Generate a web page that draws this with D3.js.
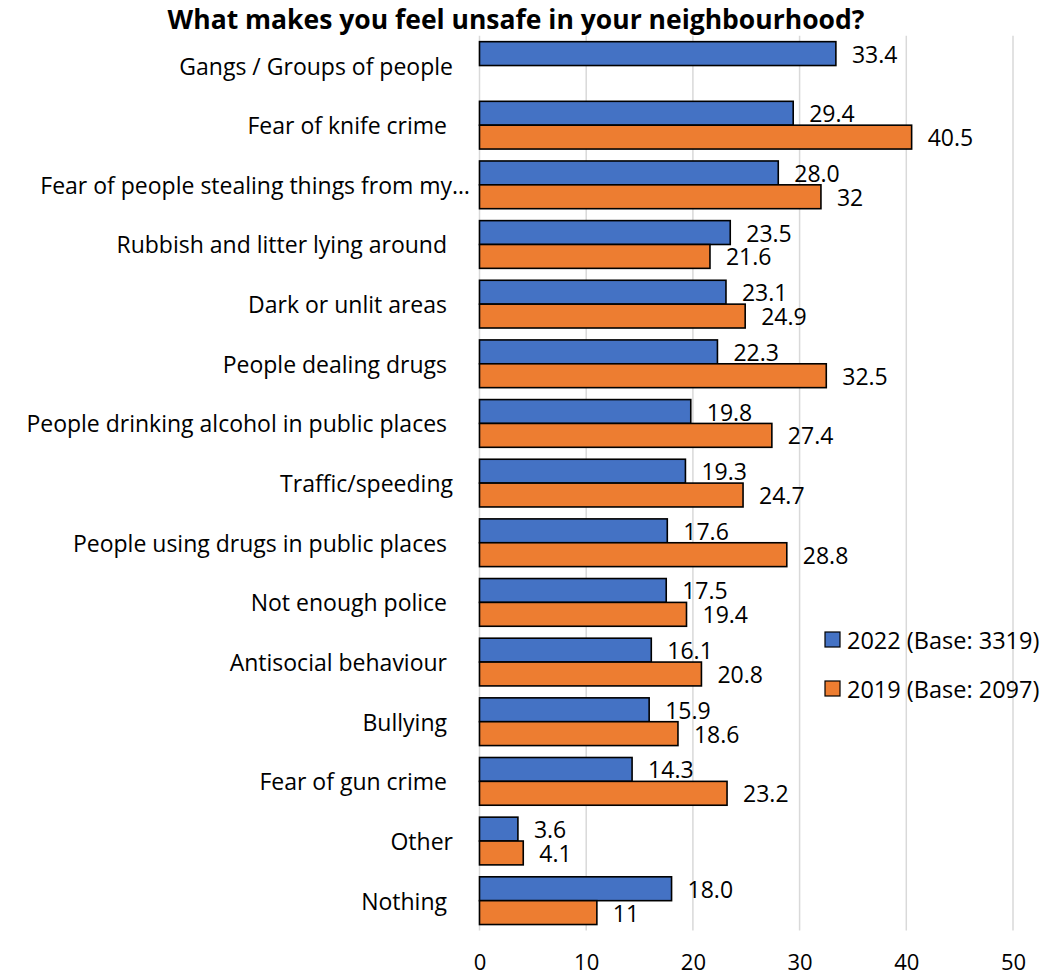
<!DOCTYPE html>
<html>
<head>
<meta charset="utf-8">
<script src="https://cdn.jsdelivr.net/npm/d3@7"></script>
<style>
  html, body { margin: 0; padding: 0; background: #fff; }
  svg { display: block; }
  text { white-space: pre; }
</style>
</head>
<body>
<svg id="chart" width="1055" height="977"></svg>
<script>
const title = "What makes you feel unsafe in your neighbourhood?";
const categories = [
  "Gangs / Groups of people",
  "Fear of knife crime ",
  "Fear of people stealing things from my…",
  "Rubbish and litter lying around ",
  "Dark or unlit areas ",
  "People dealing drugs ",
  "People drinking alcohol in public places ",
  "Traffic/speeding",
  "People using drugs in public places ",
  "Not enough police ",
  "Antisocial behaviour ",
  "Bullying ",
  "Fear of gun crime ",
  "Other",
  "Nothing "
];
const seriesNames = ["2022 (Base: 3319)", "2019 (Base: 2097)"];
const values2022 = [33.4, 29.4, 28.0, 23.5, 23.1, 22.3, 19.8, 19.3, 17.6, 17.5, 16.1, 15.9, 14.3, 3.6, 18.0];
const labels2022 = ["33.4","29.4","28.0","23.5","23.1","22.3","19.8","19.3","17.6","17.5","16.1","15.9","14.3","3.6","18.0"];
const values2019 = [null, 40.5, 32, 21.6, 24.9, 32.5, 27.4, 24.7, 28.8, 19.4, 20.8, 18.6, 23.2, 4.1, 11];
const labels2019 = ["", "40.5","32","21.6","24.9","32.5","27.4","24.7","28.8","19.4","20.8","18.6","23.2","4.1","11"];
const xTicks = [0, 10, 20, 30, 40, 50];

const colors = ["#4472C4", "#ED7D31"];
const FONT = "'Open Sans', sans-serif";

const svg = d3.select("#chart");

const x = d3.scaleLinear().domain([0, 50]).range([479.5, 1013]);
const y = d3.scaleBand().domain(categories).range([35.7, 930.5]).paddingInner(0.2).paddingOuter(0.1);
const ySub = d3.scaleBand().domain(seriesNames).range([0, y.bandwidth()]);

// gridlines
svg.append("g").selectAll("line").data(xTicks).join("line")
  .attr("x1", d => x(d)).attr("x2", d => x(d))
  .attr("y1", 35.7).attr("y2", 930.5)
  .attr("stroke", "#D9D9D9").attr("stroke-width", 1.5);

// title
svg.append("text").attr("x", 516).attr("y", 19)
  .attr("text-anchor", "middle").attr("dominant-baseline", "central")
  .attr("font-family", FONT).attr("font-weight", "bold").attr("font-size", 26.5)
  .attr("fill", "#000").text(title);

// data rows
const rows = categories.map((c, i) => ({
  cat: c,
  vals: [
    {s: seriesNames[0], v: values2022[i], lab: labels2022[i], k: 0},
    {s: seriesNames[1], v: values2019[i], lab: labels2019[i], k: 1}
  ].filter(d => d.v !== null)
}));

const g = svg.append("g");
const rowG = g.selectAll("g.row").data(rows).join("g")
  .attr("class", "row")
  .attr("transform", d => `translate(0,${y(d.cat)})`);

rowG.selectAll("rect").data(d => d.vals).join("rect")
  .attr("x", x(0))
  .attr("y", d => ySub(d.s))
  .attr("width", d => x(d.v) - x(0))
  .attr("height", ySub.bandwidth())
  .attr("fill", d => colors[d.k])
  .attr("stroke", "#000").attr("stroke-width", 1.6);

rowG.selectAll("text.val").data(d => d.vals).join("text")
  .attr("class", "val")
  .attr("x", d => x(d.v) + 16)
  .attr("y", d => ySub(d.s) + ySub.bandwidth() / 2)
  .attr("dominant-baseline", "central")
  .attr("font-family", FONT).attr("font-size", 23).attr("fill", "#000")
  .text(d => d.lab);

// category labels
svg.append("g").selectAll("text").data(categories).join("text")
  .attr("x", d => d.endsWith("…") ? 470 : 453)
  .attr("y", d => y(d) + y.bandwidth() / 2)
  .attr("text-anchor", "end").attr("dominant-baseline", "central")
  .attr("font-family", FONT).attr("font-size", 23).attr("fill", "#000")
  .text(d => d);

// x axis tick labels
const xAxis = d3.axisBottom(x).tickValues(xTicks).tickSize(0).tickPadding(0).tickFormat(d3.format("d"));
const ax = svg.append("g").attr("transform", "translate(0,950)").call(xAxis);
ax.select(".domain").remove();
ax.selectAll("text").attr("font-family", FONT).attr("font-size", 22).attr("fill", "#000")
  .attr("dy", null).attr("y", 20);

// legend
const leg = svg.append("g").selectAll("g").data(seriesNames).join("g")
  .attr("transform", (d, i) => `translate(825,${632 + i * 49})`);
leg.append("rect").attr("width", 15).attr("height", 15)
  .attr("fill", (d, i) => colors[i]).attr("stroke", "#000").attr("stroke-width", 1.2);
leg.append("text").attr("x", 22).attr("y", 7.5)
  .attr("dominant-baseline", "central")
  .attr("font-family", FONT).attr("font-size", 23.5).attr("fill", "#000")
  .text(d => d);
</script>
</body>
</html>
